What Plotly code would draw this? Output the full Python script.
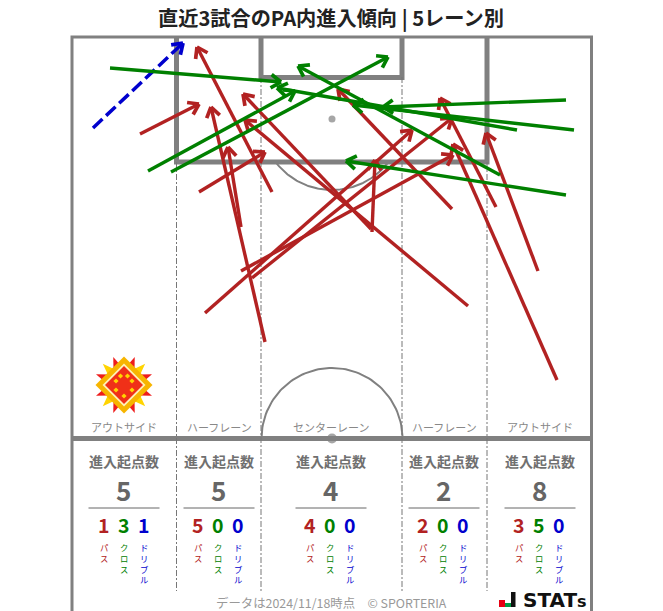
import math
import plotly.graph_objects as go

FONT = "Noto Sans CJK JP"
GRAY = "#808080"
TXT = "#666666"
RED, GREEN, BLUE = "#B22222", "#008000", "#0000CD"

# lane summary
lane_names = ["アウトサイド", "ハーフレーン", "センターレーン", "ハーフレーン", "アウトサイド"]
lane_totals = [5, 5, 4, 2, 8]
lane_pass = [1, 5, 4, 2, 3]
lane_cross = [3, 0, 0, 0, 5]
lane_dribble = [1, 0, 0, 0, 0]
lane_centers = [124, 219, 331, 444, 540]

# entries: (start x, start y, end x, end y) on the chart's axes
pass_arrows = [
    (140, 134, 199, 104),
    (199, 192, 265, 152), (241, 227, 228, 147), (205, 313, 412, 130),
    (241, 271, 453, 155), (252, 278, 452, 118),
    (272, 192, 197, 47), (265, 342, 211, 107), (372, 232, 375, 160), (371, 229, 243, 94),
    (468, 306, 245, 120), (452, 209, 338, 89),
    (496, 207, 440, 98), (538, 271, 486, 133), (557, 380, 453, 144),
]
cross_arrows = [
    (110, 68, 281, 82), (148, 171, 295, 91), (171, 172, 388, 57),
    (566, 100, 383, 107), (574, 130, 353, 105), (517, 130, 277, 88),
    (566, 195, 346, 161), (500, 175, 298, 66),
]
dribble_arrows = [(93, 128, 183, 43)]

fig = go.Figure()


def line(xs, ys, color=GRAY, width=2, dash=None):
    fig.add_trace(go.Scatter(x=xs, y=ys, mode="lines", hoverinfo="skip", showlegend=False,
                             line=dict(color=color, width=width, dash=dash)))


def poly(pts, color):
    fig.add_trace(go.Scatter(x=[p[0] for p in pts] + [pts[0][0]], y=[p[1] for p in pts] + [pts[0][1]],
                             mode="lines", fill="toself", fillcolor=color, hoverinfo="skip",
                             showlegend=False, line=dict(width=0, color=color)))


def text(x, y, s, size, color, xanchor="center"):
    fig.add_annotation(x=x, y=y, text=s, showarrow=False, xref="x", yref="y", xanchor=xanchor,
                       yanchor="middle", font=dict(family=FONT, size=size, color=color))


def arc(cx, cy, r, a0, a1, n=80):
    ang = [math.radians(a0 + (a1 - a0) * i / n) for i in range(n + 1)]
    return [cx + r * math.cos(a) for a in ang], [cy + r * math.sin(a) for a in ang]


# pitch
line([72, 72, 591.5, 591.5], [611, 37, 37, 611], width=3)
line([72, 591.5], [438.5, 438.5], width=5)
line([176.5, 176.5, 487, 487], [37, 162, 162, 37], width=5)
line([261, 261, 402, 402], [37, 77.5, 77.5, 37], width=5)
a, b = arc(332, 119, 71, 38, 142)
line(a, b, width=2)
a, b = arc(332, 438.5, 70.5, 180, 360)
line(a, b, width=2)
fig.add_trace(go.Scatter(x=[332, 332], y=[119, 438.5], mode="markers", hoverinfo="skip", showlegend=False,
                         marker=dict(color=GRAY, size=[7, 10], line=dict(width=0))))
for x, y0 in [(176.5, 162), (261, 77), (402, 77), (487, 162)]:
    line([x, x], [y0, 591], width=1, color="#777777", dash="6px,2px,2px,2px")

# emblem
cx, cy = 124, 385
for q in (0, 90, 180, 270):
    for deg, col, tip in [(45, "#FFD400", 30), (21, "#EE1C1C", 30), (69, "#EE1C1C", 30)]:
        t = math.radians(q + deg)
        w = math.radians(17)
        poly([(cx + tip * math.cos(t), cy + tip * math.sin(t)),
              (cx + 17 * math.cos(t + w), cy + 17 * math.sin(t + w)),
              (cx + 17 * math.cos(t - w), cy + 17 * math.sin(t - w))], col)
poly([(cx, cy - 28.5), (cx + 28.5, cy), (cx, cy + 28.5), (cx - 28.5, cy)], "#F7B500")
poly([(cx, cy - 21.5), (cx + 21.5, cy), (cx, cy + 21.5), (cx - 21.5, cy)], "#FFF2B8")
poly([(cx, cy - 19), (cx + 19, cy), (cx, cy + 19), (cx - 19, cy)], "#F03018")
for dx, dy in [(-8, -4), (8, -4), (-8, 5), (8, 5), (0, 11), (-3.5, -9), (3.5, -9)]:
    poly([(cx + dx, cy + dy - 2.6), (cx + dx + 2.6, cy + dy), (cx + dx, cy + dy + 2.6), (cx + dx - 2.6, cy + dy)], "#FFD400")


# arrows
def arrows(data, color, width=3.4, dash=None):
    xs, ys, hx, hy = [], [], [], []
    for x0, y0, x1, y1 in data:
        xs += [x0, x1, None]
        ys += [y0, y1, None]
        t = math.atan2(y1 - y0, x1 - x0)
        L = 12
        for d in (math.radians(146), math.radians(-146)):
            hx += [x1, x1 + L * math.cos(t + d), None]
            hy += [y1, y1 + L * math.sin(t + d), None]
    line(xs, ys, color, width, dash)
    line(hx, hy, color, width + 0.3)


arrows(pass_arrows, RED)
arrows(dribble_arrows, BLUE, 3.5, "13px,5px")
arrows(cross_arrows, GREEN)

# lane text
for i, c in enumerate(lane_centers):
    text(c, 427, lane_names[i], 11, "#888888")
    text(c, 461, "<b>進入起点数</b>", 14, "#707070")
    text(c - 0.5, 489.5, f"<b>{lane_totals[i]}</b>", 26, TXT)
    line([c - 35.5, c + 35.5], [508, 508], TXT, 1)
    for off, v, lab, col in [(-20, lane_pass[i], "パス", RED),
                             (0, lane_cross[i], "クロス", GREEN),
                             (20, lane_dribble[i], "ドリブル", BLUE)]:
        px = c + off - (0 if i == 0 else 1)
        text(px, 524.5, f"<b>{v}</b>", 19.5, col)
        vert = "<br>".join(lab)
        fig.add_annotation(x=px, y=538.5, text=vert, showarrow=False, xref="x", yref="y", xanchor="center",
                           yanchor="top", align="center", font=dict(family=FONT, size=8.3, color=col))

text(331, 17, "<b>直近3試合のPA内進入傾向 | 5レーン別</b>", 20.2, "#222222")
text(331.5, 602.5, "データは2024/11/18時点　© SPORTERIA", 12.4, "#999999")

# logo
poly([(499, 600), (505, 600), (505, 607), (499, 607)], "#E60012")
poly([(505, 603), (511, 603), (511, 607), (505, 607)], "#009944")
poly([(511, 592), (515.5, 592), (515.5, 607), (511, 607)], "#111111")
fig.add_annotation(x=521, y=600, text="<b>STAT<span style='font-size:16px'>s</span></b>", showarrow=False, xanchor="left",
                   yanchor="middle", xref="x", yref="y", font=dict(family="DejaVu Sans", size=20, color="#111111"))

fig.update_xaxes(range=[0, 663], visible=False, fixedrange=True)
fig.update_yaxes(range=[611, 0], visible=False, fixedrange=True)
fig.update_layout(width=663, height=611, margin=dict(l=0, r=0, t=0, b=0), paper_bgcolor="white",
                  plot_bgcolor="white", showlegend=False)
fig.write_html("out.html", include_plotlyjs=True, config=dict(displayModeBar=False),
               post_script="document.body.style.margin='0';document.body.style.overflow='hidden';")
